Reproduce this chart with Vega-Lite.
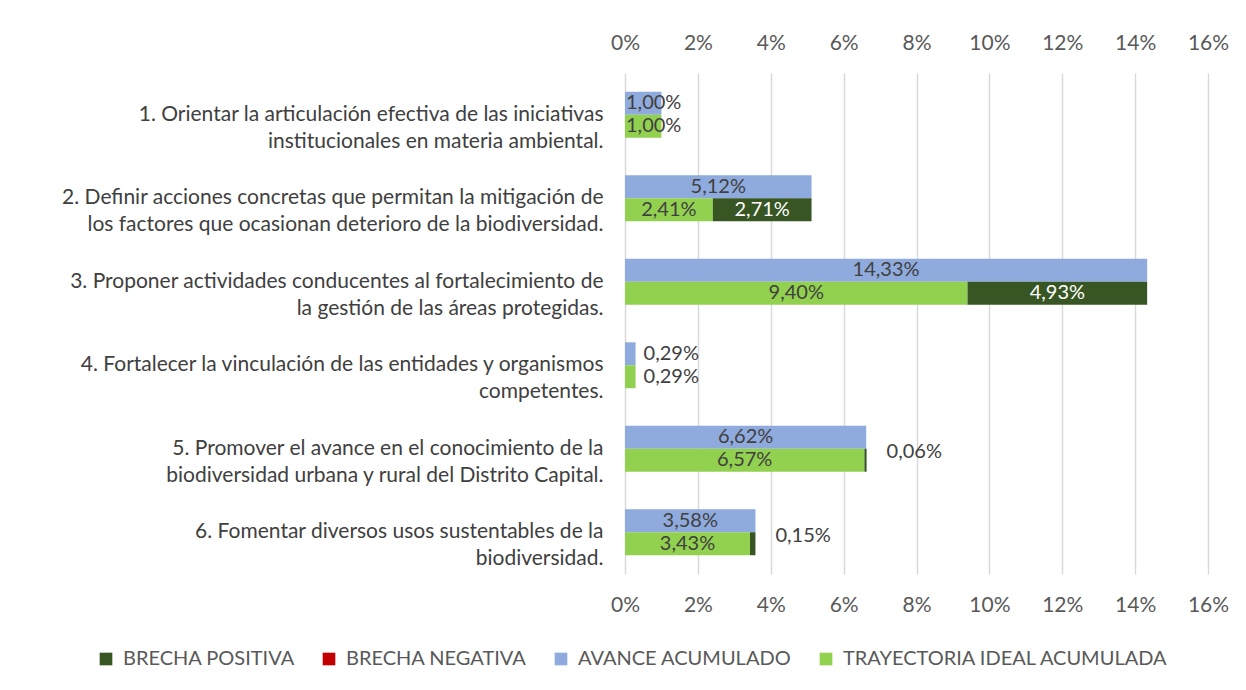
{
  "$schema": "https://vega.github.io/schema/vega-lite/v6.json",
  "width": 583,
  "height": 501,
  "autosize": {"type": "none"},
  "padding": {"left": 625, "top": 73, "right": 38, "bottom": 116},
  "background": "white",
  "config": {"view": {"stroke": null}, "font": "Lato"},
  "data": {
    "values": [
      {"cat": "1. Orientar la articulación efectiva de las iniciativas|institucionales en materia ambiental.", "row": "A", "serie": "AVANCE ACUMULADO", "value": 1.00, "label": "1,00%"},
      {"cat": "1. Orientar la articulación efectiva de las iniciativas|institucionales en materia ambiental.", "row": "B", "serie": "TRAYECTORIA IDEAL ACUMULADA", "value": 1.00, "label": "1,00%"},
      {"cat": "2. Definir acciones concretas que permitan la mitigación de|los factores que ocasionan deterioro de la biodiversidad.", "row": "A", "serie": "AVANCE ACUMULADO", "value": 5.12, "label": "5,12%"},
      {"cat": "2. Definir acciones concretas que permitan la mitigación de|los factores que ocasionan deterioro de la biodiversidad.", "row": "B", "serie": "TRAYECTORIA IDEAL ACUMULADA", "value": 2.41, "label": "2,41%"},
      {"cat": "2. Definir acciones concretas que permitan la mitigación de|los factores que ocasionan deterioro de la biodiversidad.", "row": "B", "serie": "BRECHA POSITIVA", "value": 2.71, "label": "2,71%"},
      {"cat": "3. Proponer actividades conducentes al fortalecimiento de|la gestión de las áreas protegidas.", "row": "A", "serie": "AVANCE ACUMULADO", "value": 14.33, "label": "14,33%"},
      {"cat": "3. Proponer actividades conducentes al fortalecimiento de|la gestión de las áreas protegidas.", "row": "B", "serie": "TRAYECTORIA IDEAL ACUMULADA", "value": 9.40, "label": "9,40%"},
      {"cat": "3. Proponer actividades conducentes al fortalecimiento de|la gestión de las áreas protegidas.", "row": "B", "serie": "BRECHA POSITIVA", "value": 4.93, "label": "4,93%"},
      {"cat": "4. Fortalecer la vinculación de las entidades y organismos|competentes.", "row": "A", "serie": "AVANCE ACUMULADO", "value": 0.29, "label": "0,29%"},
      {"cat": "4. Fortalecer la vinculación de las entidades y organismos|competentes.", "row": "B", "serie": "TRAYECTORIA IDEAL ACUMULADA", "value": 0.29, "label": "0,29%"},
      {"cat": "5. Promover el avance en el conocimiento de la|biodiversidad urbana y rural del Distrito Capital.", "row": "A", "serie": "AVANCE ACUMULADO", "value": 6.62, "label": "6,62%"},
      {"cat": "5. Promover el avance en el conocimiento de la|biodiversidad urbana y rural del Distrito Capital.", "row": "B", "serie": "TRAYECTORIA IDEAL ACUMULADA", "value": 6.57, "label": "6,57%"},
      {"cat": "5. Promover el avance en el conocimiento de la|biodiversidad urbana y rural del Distrito Capital.", "row": "B", "serie": "BRECHA POSITIVA", "value": 0.06, "label": "0,06%"},
      {"cat": "6. Fomentar diversos usos sustentables de la|biodiversidad.", "row": "A", "serie": "AVANCE ACUMULADO", "value": 3.58, "label": "3,58%"},
      {"cat": "6. Fomentar diversos usos sustentables de la|biodiversidad.", "row": "B", "serie": "TRAYECTORIA IDEAL ACUMULADA", "value": 3.43, "label": "3,43%"},
      {"cat": "6. Fomentar diversos usos sustentables de la|biodiversidad.", "row": "B", "serie": "BRECHA POSITIVA", "value": 0.15, "label": "0,15%"}
    ]
  },
  "encoding": {
    "y": {
      "field": "cat", "type": "nominal", "sort": null,
      "scale": {"paddingInner": 0.45, "paddingOuter": 0.225},
      "axis": {
        "title": null, "domain": false, "ticks": false,
        "labelExpr": "split(datum.label, '|')",
        "labelAlign": "right", "labelBaseline": "middle",
        "labelFontSize": 21, "labelColor": "#404040", "labelPadding": 22,
        "labelLineHeight": 27, "labelLimit": 700
      }
    },
    "yOffset": {"field": "row", "type": "nominal", "sort": ["A", "B"], "scale": {"paddingInner": 0, "paddingOuter": 0}},
    "order": {"field": "serie", "type": "nominal", "sort": "descending"}
  },
  "layer": [
    {
      "mark": {"type": "bar"},
      "encoding": {
        "x": {
          "field": "value", "type": "quantitative", "stack": "zero",
          "scale": {"domain": [0, 16], "nice": false},
          "axis": {
            "orient": "top", "title": null, "values": [0, 2, 4, 6, 8, 10, 12, 14, 16],
            "labelExpr": "datum.value + '%'", "domain": false, "ticks": false,
            "grid": true, "gridColor": "#d9d9d9", "gridWidth": 1.5, "labelFlush": false,
            "labelFontSize": 21, "labelColor": "#595959", "labelPadding": 20
          }
        },
        "color": {
          "field": "serie", "type": "nominal",
          "scale": {
            "domain": ["BRECHA POSITIVA", "BRECHA NEGATIVA", "AVANCE ACUMULADO", "TRAYECTORIA IDEAL ACUMULADA"],
            "range": ["#375623", "#C00000", "#8FAADC", "#92D050"]
          },
          "legend": {
            "orient": "none", "direction": "horizontal", "legendX": -529, "legendY": 576,
            "title": null, "symbolType": "square", "symbolSize": 160, "symbolStrokeWidth": 0,
            "labelFontSize": 20, "labelColor": "#595959", "columnPadding": 24, "labelOffset": 7,
            "labelLimit": 400
          }
        }
      }
    },
    {
      "mark": {"type": "text", "fontSize": 20, "baseline": "middle", "align": "center"},
      "encoding": {
        "x": {
          "field": "value", "type": "quantitative", "stack": "zero", "bandPosition": 0.5,
          "scale": {"domain": [0, 16], "nice": false},
          "axis": {
            "orient": "bottom", "title": null, "values": [0, 2, 4, 6, 8, 10, 12, 14, 16],
            "labelExpr": "datum.value + '%'", "domain": false, "ticks": false, "grid": false, "labelFlush": false,
            "labelFontSize": 21, "labelColor": "#595959", "labelPadding": 20
          }
        },
        "text": {"condition": {"test": "datum.value >= 2", "field": "label"}, "value": ""},
        "color": {"condition": {"test": "datum.serie === 'BRECHA POSITIVA'", "value": "#ffffff"}, "value": "#404040"}
      }
    },
    {
      "mark": {"type": "text", "fontSize": 20, "baseline": "middle", "align": "left", "dx": 1, "color": "#404040"},
      "encoding": {
        "x": {"field": "value", "type": "quantitative", "stack": "zero", "bandPosition": 0, "axis": null},
        "text": {"condition": {"test": "datum.value >= 0.5 && datum.value < 2", "field": "label"}, "value": ""}
      }
    },
    {
      "mark": {"type": "text", "fontSize": 20, "baseline": "middle", "align": "left", "dx": 8, "color": "#404040"},
      "encoding": {
        "x": {"field": "value", "type": "quantitative", "stack": "zero", "bandPosition": 1, "axis": null},
        "text": {"condition": {"test": "datum.value < 0.5 && datum.serie !== 'BRECHA POSITIVA'", "field": "label"}, "value": ""}
      }
    },
    {
      "mark": {"type": "text", "fontSize": 20, "baseline": "middle", "align": "left", "dx": 20, "dy": -8, "color": "#404040"},
      "encoding": {
        "x": {"field": "value", "type": "quantitative", "stack": "zero", "bandPosition": 1, "axis": null},
        "text": {"condition": {"test": "datum.value < 0.5 && datum.serie === 'BRECHA POSITIVA'", "field": "label"}, "value": ""}
      }
    }
  ],
  "resolve": {"axis": {"x": "independent"}}
}
